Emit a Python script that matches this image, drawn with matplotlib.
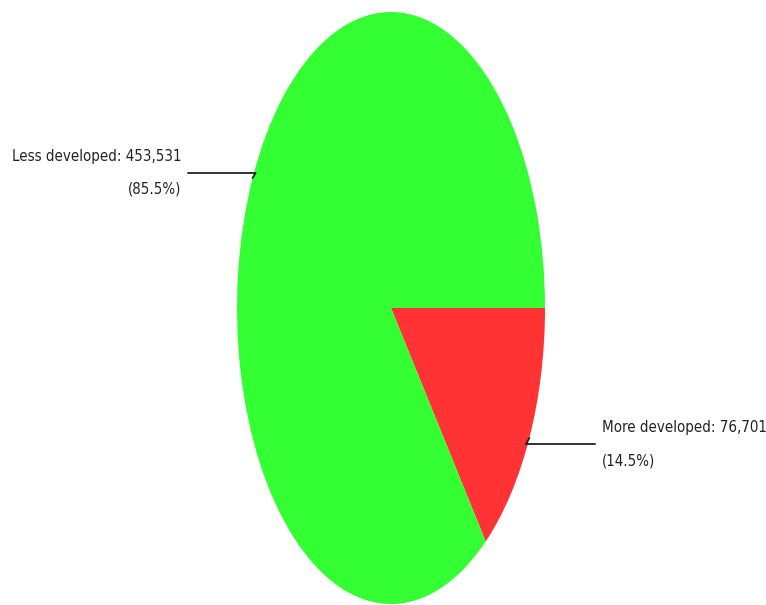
import numpy as np
import matplotlib
matplotlib.use("Agg")
import matplotlib.pyplot as plt
from matplotlib import font_manager

# Data
labels = ["More developed", "Less developed"]
values = [76701, 453531]
colors = ["#ff3333", "#33ff33"]

# pick a narrow font if one is installed
names = {(f.name, f.stretch) for f in font_manager.fontManager.ttflist}
if any(n == "Liberation Sans Narrow" for n, s in names):
    family, stretch = "Liberation Sans Narrow", "normal"
elif ("DejaVu Sans", "condensed") in names or ("DejaVu Sans", "semi-condensed") in names:
    family, stretch = "DejaVu Sans", "condensed"
else:
    family, stretch = "Liberation Sans", "normal"
plt.rcParams['font.family'] = [family, 'DejaVu Sans']

W, H = 766, 605
fig = plt.figure(figsize=(W / 100, H / 100), dpi=100)
fig.patch.set_facecolor("white")

# ellipse bounding box in pixels (left, top, right, bottom)
ex0, ey0, ex1, ey1 = 237, 12, 545, 604
ax = fig.add_axes([ex0 / W, 1 - ey1 / H, (ex1 - ex0) / W, (ey1 - ey0) / H])
wedges, _ = ax.pie(values, colors=colors, startangle=0, counterclock=False,
                   radius=1, wedgeprops=dict(linewidth=0))
ax.set_aspect("auto")
ax.set_xlim(-1, 1)
ax.set_ylim(-1, 1)
ax.axis("off")

# size the font so the long label line is about 170 px wide
renderer = fig.canvas.get_renderer()
probe = fig.text(0, 0, "Less developed: 453,531", fontsize=12, fontstretch=stretch)
fs = 12 * 170 / probe.get_window_extent(renderer).width
probe.remove()

total = sum(values)
text_pos = {"Less developed": (181, 173, "right"), "More developed": (602, 444, "left")}
for w, lab, v in zip(wedges, labels, values):
    mid = np.deg2rad((w.theta1 + w.theta2) / 2)
    x, y = np.cos(mid), np.sin(mid)
    tx, ty, ha = text_pos[lab]
    txt = f"{lab}: {v:,}\n({v / total * 100:.1f}%)"
    ax.annotate(txt, xy=(x, y), xycoords="data",
                xytext=(tx / W, 1 - ty / H), textcoords="figure fraction",
                ha=ha, va="center", fontsize=fs, fontstretch=stretch,
                color="#222222", linespacing=2.5, annotation_clip=False,
                arrowprops=dict(arrowstyle="-", color="#222222", lw=1.3,
                                shrinkA=3, shrinkB=0,
                                connectionstyle="angle,angleA=0,angleB=60,rad=0"))

fig.savefig("out.png", dpi=100)
